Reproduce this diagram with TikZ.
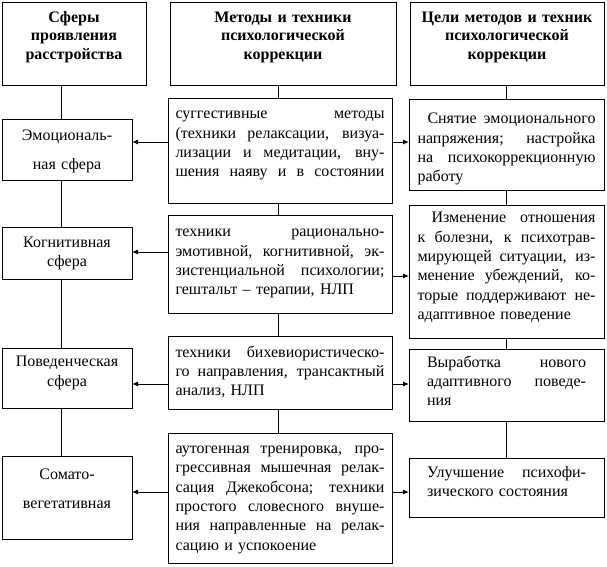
\documentclass[tikz,border=0pt]{standalone}
\usepackage{fontspec}
\setmainfont{Liberation Serif}
\usetikzlibrary{arrows.meta}
\newcommand{\vstart}{\par\nointerlineskip}
\newcommand{\jline}[1]{\par\hbox to\linewidth{\spaceskip=\fontdimen2\font plus 1fil\relax\strut#1}}
\newcommand{\rline}[1]{\par\hbox{\strut#1}}
\newcommand{\mline}[1]{\par\hbox to\linewidth{\hss\strut#1\hss}}
\newcommand{\botgap}[1]{\par\nointerlineskip\vbox to #1pt{\vfil}}
\newcommand{\topgap}[1]{\par\nointerlineskip\vbox to #1pt{\vfil}\nointerlineskip}
\begin{document}
\begin{tikzpicture}[x=1pt,y=-1pt,
    box/.style = {draw,line width=1pt,anchor=north west,outer sep=0pt,inner ysep=0pt,
                  font=\fontsize{16}{19.3}\selectfont},
    head/.style = {box,font=\bfseries\fontsize{16}{18.5}\selectfont,minimum height=83pt},
    sphere/.style = {box,text width=120pt,inner xsep=5pt},
    method/.style = {box,text width=209pt,inner xsep=7.5pt},
    goal/.style = {box,text width=178pt,inner xsep=8.5pt},
    goalwide/.style = {box,text width=159pt,inner xsep=18pt},
    arrow/.style = {line width=1pt,-{Latex[length=6pt,width=5pt]}}]
    \useasboundingbox (0,0) rectangle (607,566);

    \node [head,text width=134pt,inner xsep=5pt] (lh) at (2,2)
        {\vstart\mline{Сферы}\mline{проявления}\mline{расстройства}\botgap{13.4}};
    \node [head,text width=216pt,inner xsep=5pt] (mh) at (170,2)
        {\vstart\mline{Методы и техники}\mline{психологической}\mline{коррекции}\botgap{13.4}};
    \node [head,text width=184pt,inner xsep=5pt] (rh) at (410,2)
        {\vstart\mline{Цели методов и техник}\mline{психологической}\mline{коррекции}\botgap{13.4}};

    \node [sphere,font=\fontsize{16}{29}\selectfont,minimum height=61pt] (l1) at (2,119)
        {\vstart\mline{Эмоциональ-}\mline{ная сфера}};
    \node [sphere,minimum height=52pt] (l2) at (2,227)
        {\vstart\mline{Когнитивная}\mline{сфера}};
    \node [sphere,minimum height=60pt] (l3) at (2,348)
        {\vstart\mline{Поведенческая}\mline{сфера}\botgap{10.7}};
    \node [sphere,font=\fontsize{16}{29}\selectfont,minimum height=83pt] (l4) at (2,456)
        {\vstart\mline{Сомато-}\mline{вегетативная}\botgap{19.4}};

    \node [method,minimum height=105pt] (m1) at (168,98)
        {\vstart
         \jline{суггестивные методы}
         \jline{(техники релаксации, визуа-}
         \jline{лизации и медитации, вну-}
         \jline{шения наяву и в состоянии}\botgap{13}};
    \node [method,minimum height=98pt] (m2) at (168,215)
        {\vstart
         \jline{техники рационально-}
         \jline{эмотивной, когнитивной, эк-}
         \jline{зистенциальной психологии;}
         \rline{гештальт – терапии, НЛП}\botgap{4}};
    \node [method,minimum height=73pt] (m3) at (168,336)
        {\vstart
         \jline{техники бихевиористическо-}
         \jline{го направления, трансактный}
         \rline{анализ, НЛП}};
    \node [method,minimum height=130pt] (m4) at (168,433)
        {\vstart
         \jline{аутогенная тренировка, про-}
         \jline{грессивная мышечная релак-}
         \jline{сация Джекобсона; техники}
         \jline{простого словесного внуше-}
         \jline{ния направленные на релак-}
         \rline{сацию и успокоение}};

    \node [goal,minimum height=91pt] (r1) at (409,99)
        {\topgap{8.9}
         \jline{\hspace{10pt}Снятие эмоционального}
         \jline{напряжения; настройка}
         \jline{на психокоррекционную}
         \rline{работу}};
    \node [goal,minimum height=133pt] (r2) at (409,205)
        {\vstart
         \jline{\hspace{14pt}Изменение отношения}
         \jline{к болезни, к психотрав-}
         \jline{мирующей ситуации, из-}
         \jline{менение убеждений, ко-}
         \jline{торые поддерживают не-}
         \rline{адаптивное поведение}\botgap{8.5}};
    \node [goalwide,minimum height=72pt] (r3) at (409,349)
        {\vstart
         \jline{Выработка нового}
         \jline{адаптивного поведе-}
         \rline{ния}\botgap{4.4}};
    \node [goalwide,minimum height=59pt] (r4) at (409,458)
        {\vstart
         \jline{Улучшение психофи-}
         \rline{зического состояния}\botgap{9}};

    \coordinate (lx) at (61,0);
    \coordinate (mx) at (278,0);
    \draw [line width=1pt] (lh.south -| lx) -- (l1.north -| lx);
    \draw [line width=1pt] (l1.south -| lx) -- (l2.north -| lx);
    \draw [line width=1pt] (l2.south -| lx) -- (l3.north -| lx);
    \draw [line width=1pt] (l3.south -| lx) -- (l4.north -| lx);
    \draw [line width=1pt] (mh.south -| mx) -- (m1.north -| mx);
    \draw [line width=1pt] (m1.south -| mx) -- (m2.north -| mx);
    \draw [line width=1pt] (m2.south -| mx) -- (m3.north -| mx);
    \draw [line width=1pt] (m3.south -| mx) -- (m4.north -| mx);
    \draw [line width=1pt] (rh.south -| r1.north) -- (r1.north);
    \draw [line width=1pt] (r1.south) -- (r2.north);
    \draw [line width=1pt] (r2.south) -- (r3.north);
    \draw [line width=1pt] (r3.south) -- (r4.north);

    \coordinate (h1) at (0,142);
    \coordinate (h2) at (0,252);
    \coordinate (h2r) at (0,276);
    \coordinate (h3) at (0,384);
    \coordinate (h4) at (0,492);
    \draw [arrow] (m1.west |- h1) -- (l1.east |- h1);
    \draw [arrow] (m1.east |- h1) -- (r1.west |- h1);
    \draw [arrow] (m2.west |- h2) -- (l2.east |- h2);
    \draw [arrow] (m2.east |- h2r) -- (r2.west |- h2r);
    \draw [arrow] (m3.west |- h3) -- (l3.east |- h3);
    \draw [arrow] (m3.east |- h3) -- (r3.west |- h3);
    \draw [arrow] (m4.west |- h4) -- (l4.east |- h4);
    \draw [arrow] (m4.east |- h4) -- (r4.west |- h4);
\end{tikzpicture}
\end{document}
